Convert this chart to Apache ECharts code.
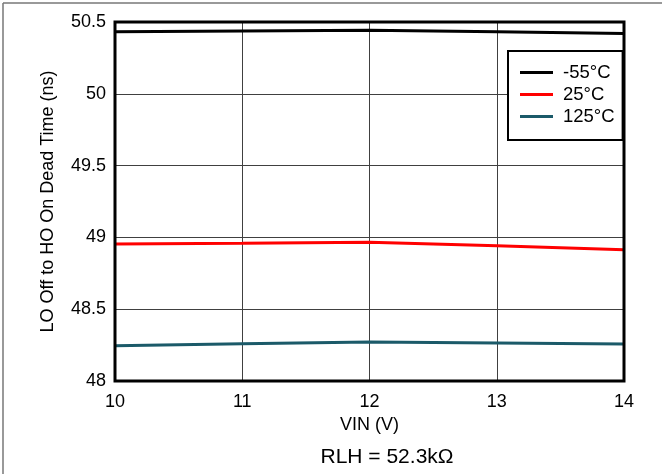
<!DOCTYPE html>
<html><head><meta charset="utf-8">
<script src="https://cdn.jsdelivr.net/npm/echarts@6/dist/echarts.min.js"></script>
<style>html,body{margin:0;padding:0;background:#fff}#c{width:662px;height:474px}</style>
</head><body><div id="c"></div>
<script>
const vin = [10, 11, 12, 13, 14];
const tM55 = [50.432, 50.437, 50.442, 50.432, 50.42];
const t25 = [48.954, 48.959, 48.966, 48.942, 48.914];
const t125 = [48.246, 48.26, 48.272, 48.265, 48.258];
const seriesNames = ['-55°C', '25°C', '125°C'];
const seriesColors = ['#000000', '#ff0000', '#1b5a69'];
const yTicks = [48, 48.5, 49, 49.5, 50, 50.5];
const xTicks = [10, 11, 12, 13, 14];
const note = 'RLH = 52.3kΩ';

const FONT = '"Liberation Sans", Arial, sans-serif';
const chart = echarts.init(document.getElementById('c'), null, {renderer: 'canvas'});
const data = [tM55, t25, t125];
chart.setOption({
  animation: false,
  textStyle: {fontFamily: FONT},
  grid: {left: 115, right: 38, top: 22, bottom: 93, show: true, borderColor: '#000', borderWidth: 3, z: 10},
  xAxis: {
    type: 'value', min: xTicks[0], max: xTicks[xTicks.length - 1], interval: 1,
    name: 'VIN (V)', nameLocation: 'middle', nameGap: 33,
    nameTextStyle: {fontSize: 18, color: '#000', fontFamily: FONT},
    axisLine: {show: false}, axisTick: {show: false},
    axisLabel: {fontSize: 18, color: '#000', margin: 12, fontFamily: FONT},
    splitLine: {show: true, lineStyle: {color: '#404040', width: 1}}
  },
  yAxis: {
    type: 'value', min: yTicks[0], max: yTicks[yTicks.length - 1], interval: 0.5,
    name: 'LO Off to HO On Dead Time (ns)', nameLocation: 'middle', nameGap: 58,
    nameTextStyle: {fontSize: 18, color: '#000', fontFamily: FONT},
    axisLine: {show: false}, axisTick: {show: false},
    axisLabel: {fontSize: 18, color: '#000', margin: 9, fontFamily: FONT},
    splitLine: {show: true, lineStyle: {color: '#404040', width: 1}}
  },
  legend: {
    orient: 'vertical', left: 508, top: 51,
    backgroundColor: '#fff', borderColor: '#000', borderWidth: 2, borderRadius: 0,
    padding: [12, 8, 14, 12], itemGap: 3, itemWidth: 33, itemHeight: 3,
    icon: 'rect',
    textStyle: {fontSize: 18.5, color: '#000', lineHeight: 18, fontFamily: FONT, padding: [0, 0, 0, 5]},
    data: seriesNames
  },
  graphic: [
    {type: 'line', shape: {x1: 3, y1: 3, x2: 662, y2: 3}, style: {stroke: '#777', lineWidth: 1.5}},
    {type: 'line', shape: {x1: 3, y1: 3, x2: 3, y2: 474}, style: {stroke: '#777', lineWidth: 1.5}},
    {type: 'text', x: 387, y: 457, style: {text: note, font: '21px ' + FONT, fill: '#000', textAlign: 'center', textVerticalAlign: 'middle'}}
  ],
  series: seriesNames.map((n, i) => ({
    name: n, type: 'line', showSymbol: false, symbol: 'none',
    data: vin.map((v, j) => [v, data[i][j]]),
    lineStyle: {color: seriesColors[i], width: 3},
    itemStyle: {color: seriesColors[i]}
  }))
});
</script></body></html>
